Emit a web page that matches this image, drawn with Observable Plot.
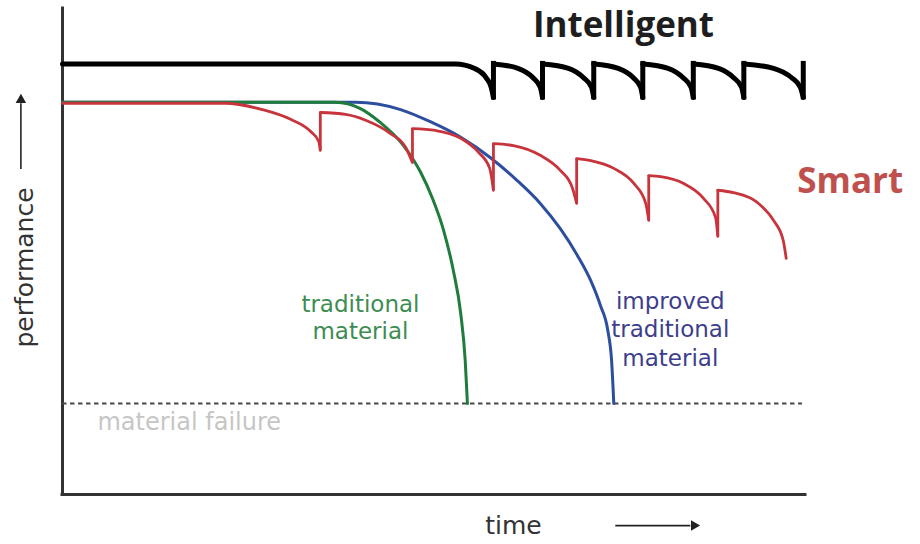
<!DOCTYPE html>
<html>
<head>
<meta charset="utf-8">
<script src="https://cdn.jsdelivr.net/npm/d3@7"></script>
<script src="https://cdn.jsdelivr.net/npm/@observablehq/plot@0.6"></script>
<style>
  html, body { margin: 0; padding: 0; background: #fff; overflow: hidden; }
</style>
</head>
<body>
<div id="chart"></div>
<script>
// Time (0–100) vs performance (0–100).

// Intelligent: [arc, time, performance]
const intelligent = [
  [0, 0, 88.6], [0, 52.9, 88.6], [0, 55.4, 87.7], [0, 57.0, 85.8], [0, 57.7, 83.8], [0, 58.0, 81.7],
  [1, 58.0, 88.6], [1, 61.3, 87.7], [1, 63.3, 85.8], [1, 64.3, 83.8], [1, 64.6, 81.7],
  [2, 64.6, 88.6], [2, 68.1, 87.7], [2, 70.1, 85.8], [2, 71.2, 83.8], [2, 71.5, 81.7],
  [3, 71.5, 88.6], [3, 74.8, 87.7], [3, 76.8, 85.8], [3, 77.8, 83.8], [3, 78.1, 81.7],
  [4, 78.1, 88.6], [4, 81.5, 87.7], [4, 83.5, 85.8], [4, 84.6, 83.8], [4, 84.9, 81.7],
  [5, 84.9, 88.6], [5, 88.3, 87.7], [5, 90.3, 85.8], [5, 91.4, 83.8], [5, 91.7, 81.7],
  [6, 91.7, 88.6], [6, 95.7, 87.7], [6, 98.1, 85.8], [6, 99.3, 83.8], [6, 99.7, 81.7]
];
// Intelligent recoveries: [time, from, to]
const intelligentJumps = [
  [58.0, 81.7, 88.6], [64.6, 81.7, 88.6], [71.5, 81.7, 88.6], [78.1, 81.7, 88.6],
  [84.9, 81.7, 88.6], [91.7, 81.7, 88.6], [99.7, 81.7, 88.6]
];

// Smart: [arc, time, performance]
const smart = [
  [0, 0, 80.5], [0, 21.9, 80.5], [0, 26.9, 79.2], [0, 30.7, 77.2], [0, 33.4, 74.7], [0, 34.5, 72.6], [0, 34.7, 70.8],
  [1, 34.7, 78.6], [1, 38.1, 78.2], [1, 40.8, 77.0], [1, 44.1, 74.3], [1, 46.2, 71.4], [1, 47.1, 68.3],
  [2, 47.1, 75.3], [2, 50.2, 74.9], [2, 53.6, 73.3], [2, 56.0, 70.4], [2, 57.5, 67.1], [2, 58.0, 62.6],
  [3, 58.0, 72.2], [3, 60.7, 71.8], [3, 64.3, 69.8], [3, 67.0, 66.7], [3, 68.6, 63.2], [3, 69.2, 59.9],
  [4, 69.2, 69.1], [4, 71.1, 68.7], [4, 74.2, 67.1], [4, 76.9, 64.0], [4, 78.5, 59.9], [4, 78.9, 56.4],
  [5, 78.9, 65.6], [5, 80.5, 65.4], [5, 83.6, 64.0], [5, 86.3, 60.9], [5, 87.9, 57.0], [5, 88.2, 53.1],
  [6, 88.2, 62.6], [6, 90.3, 62.1], [6, 93.5, 60.1], [6, 95.7, 56.4], [6, 97.0, 52.3], [6, 97.4, 48.6]
];
// Smart recoveries: [time, from, to]
const smartJumps = [
  [34.7, 70.8, 78.6], [47.1, 68.3, 75.3], [58.0, 62.6, 72.2],
  [69.2, 59.9, 69.1], [78.9, 56.4, 65.6], [88.2, 53.1, 62.6]
];

// Traditional material: [time, performance]
const traditional = [
  [0, 80.7], [36.7, 80.7], [40.1, 79.4], [42.8, 76.5], [45.9, 71.8], [48.2, 66.3],
  [49.8, 60.9], [51.3, 54.3], [52.6, 46.1], [53.6, 37.2], [54.2, 27.6], [54.5, 18.7]
];
// Improved traditional material: [time, performance]
const improved = [
  [0, 80.7], [39.4, 80.7], [45.5, 79.2], [49.5, 76.7], [53.6, 73.5], [57.6, 69.3],
  [61.2, 64.6], [64.3, 59.9], [67.0, 54.7], [69.3, 49.2], [71.1, 44.0], [72.4, 38.9],
  [73.4, 33.7], [73.9, 27.6], [74.2, 18.7]
];

const failureLevel = [18.7];

const chart = Plot.plot({
  width: 920,
  height: 544,
  marginLeft: 62,
  marginRight: 115,
  marginTop: 8,
  marginBottom: 50,
  x: {domain: [0, 100], axis: null},
  y: {domain: [0, 100], axis: null},
  style: {background: "#fff", fontFamily: "DejaVu Sans, Verdana, sans-serif"},
  marks: [
    // axes
    Plot.ruleX([0], {y1: 0, y2: 100, stroke: "#333", strokeWidth: 3, strokeLinecap: "square"}),
    Plot.ruleY([0], {x1: 0, x2: 100, stroke: "#333", strokeWidth: 3, strokeLinecap: "square"}),
    // material failure line
    Plot.ruleY(failureLevel, {x1: 0, x2: 99.6, stroke: "#4a4a4a", strokeWidth: 2, strokeDasharray: "4.5,3.5"}),
    Plot.text(["material failure"], {x: 4.7, y: 14.8, textAnchor: "start", fill: "#c6c6c6", fontSize: 24, style: "letter-spacing:1.2px"}),
    // curves
    Plot.line(improved, {x: d => d[0], y: d => d[1], stroke: "#2d4e9e", strokeWidth: 3, curve: "monotone-x"}),
    Plot.line(traditional, {x: d => d[0], y: d => d[1], stroke: "#1f7c3c", strokeWidth: 3, curve: "monotone-x"}),
    Plot.line(smart, {x: d => d[1], y: d => d[2], z: d => d[0], stroke: "#c8343c", strokeWidth: 2.8, curve: "monotone-x"}),
    Plot.ruleX(smartJumps, {x: d => d[0], y1: d => d[1], y2: d => d[2], stroke: "#c8343c", strokeWidth: 2.8}),
    Plot.line(intelligent, {x: d => d[1], y: d => d[2], z: d => d[0], stroke: "#000", strokeWidth: 5, curve: "monotone-x"}),
    Plot.ruleX(intelligentJumps, {x: d => d[0], y1: d => d[1], y2: d => d[2], stroke: "#000", strokeWidth: 5, strokeLinecap: "square"}),
    // labels
    Plot.text(["Intelligent"], {x: 75.5, y: 96.5, fill: "#1e1e1e", fontSize: 35, fontWeight: 700, fontFamily: "Open Sans", style: "letter-spacing:1.5px"}),
    Plot.text(["Smart"], {x: 98.9, y: 64.4, textAnchor: "start", fill: "#c0504d", fontSize: 35, fontWeight: 700, fontFamily: "Open Sans", style: "letter-spacing:2px"}),
    Plot.text(["traditional\nmaterial"], {x: 40.1, y: 36.6, fill: "#3d8c52", fontSize: 23, lineHeight: 1.17, style: "letter-spacing:1px"}),
    Plot.text(["improved\ntraditional\nmaterial"], {x: 81.8, y: 34.2, fill: "#3d3e8c", fontSize: 23, lineHeight: 1.25, style: "letter-spacing:1px"}),
    // axis titles with arrows
    Plot.text(["time"], {x: 60.7, y: -6.4, fill: "#333", fontSize: 25, style: "letter-spacing:1px"}),
    Plot.link([[74.4, 84.5]], {x1: d => d[0], x2: d => d[1], y1: -6.4, y2: -6.4, stroke: "#222", strokeWidth: 1.6}),
    Plot.dot([85.0], {x: d => d, y: -6.4, symbol: "triangle2", rotate: 90, r: 5, fill: "#222", stroke: null}),
    Plot.text(["performance"], {x: -5.0, y: 46.7, rotate: -90, fill: "#333", fontSize: 25}),
    Plot.link([[67, 80.5]], {x1: -5.6, x2: -5.6, y1: d => d[0], y2: d => d[1], stroke: "#222", strokeWidth: 1.6}),
    Plot.dot([81.2], {x: -5.6, y: d => d, symbol: "triangle2", r: 5, fill: "#222", stroke: null})
  ]
});
document.getElementById("chart").appendChild(chart);
</script>
</body>
</html>
